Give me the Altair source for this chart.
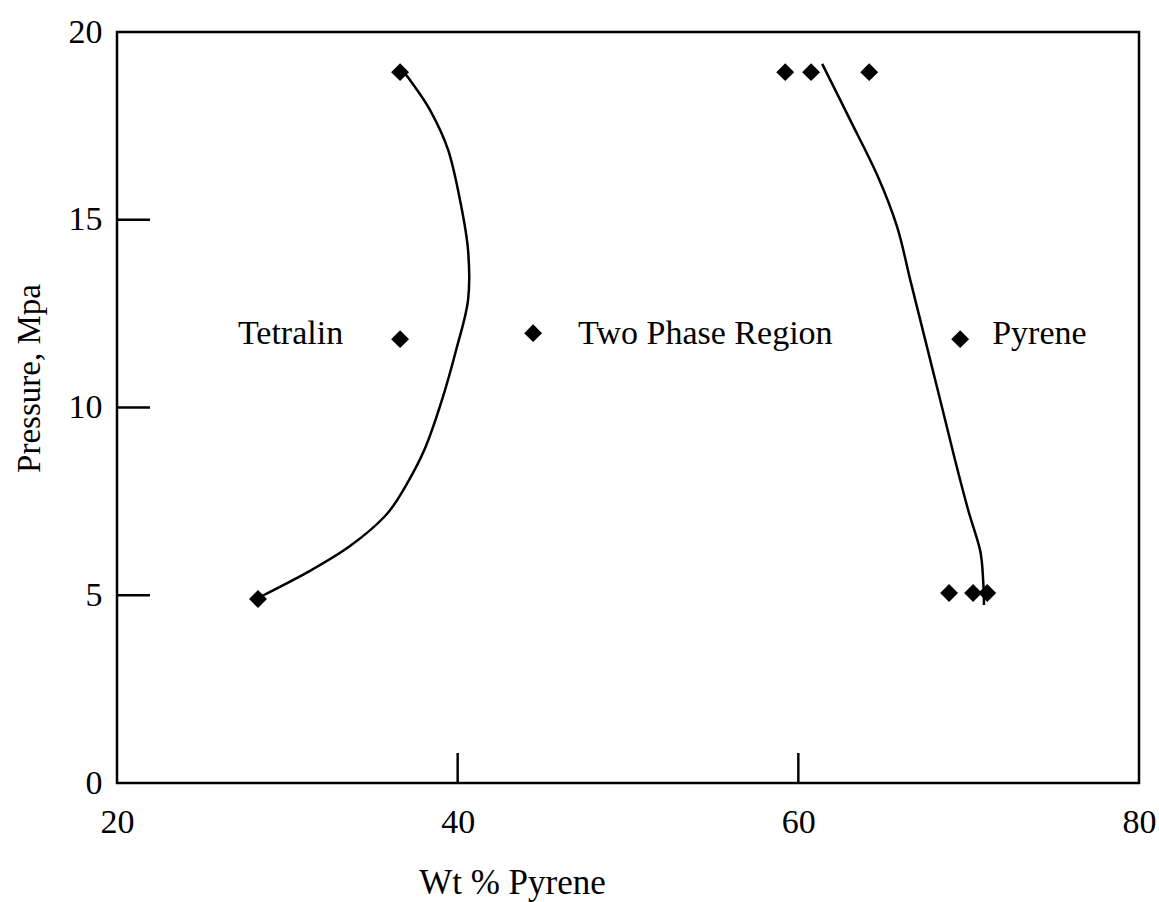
import altair as alt
import pandas as pd

# Measured points (diamonds)
pt_x = [28.28, 36.62, 36.62, 44.43, 59.23, 60.75, 64.16, 69.5, 68.85, 70.26, 71.09]
pt_y = [4.90, 18.93, 11.82, 11.98, 18.93, 18.93, 18.93, 11.82, 5.06, 5.06, 5.06]

# Hand-drawn phase boundary curves
tet_x = [28.51, 31.33, 33.68, 35.74, 36.91, 38.09, 39.08, 39.91, 40.61, 40.61, 40.14, 39.44, 38.38, 37.20, 36.79]
tet_y = [4.98, 5.65, 6.31, 7.11, 7.88, 8.92, 10.2, 11.53, 12.86, 14.19, 15.52, 16.86, 17.92, 18.72, 18.93]
pyr_x = [61.4, 63.04, 64.63, 65.8, 66.57, 67.45, 68.33, 69.2, 69.97, 70.67, 70.85, 70.9]
pyr_y = [19.15, 17.66, 16.19, 14.81, 13.4, 11.8, 10.2, 8.6, 7.27, 6.2, 5.4, 4.74]

# Region labels
lab_text = ["Tetralin", "Two Phase Region", "Pyrene"]
lab_x = [27.1, 47.07, 71.38]
lab_y = [11.69, 11.69, 11.69]

x_ticks = [40, 60]
y_ticks = [5, 10, 15]

FONT = "Liberation Serif"
W, H = 1022, 751

points = pd.DataFrame({"x": pt_x, "y": pt_y})
curves = pd.DataFrame({
    "x": tet_x + pyr_x,
    "y": tet_y + pyr_y,
    "curve": ["Tetralin"] * len(tet_x) + ["Pyrene"] * len(pyr_x),
    "order": list(range(len(tet_x))) + list(range(len(pyr_x))),
})
labels = pd.DataFrame({"x": lab_x, "y": lab_y, "text": lab_text})

xscale = alt.Scale(domain=[20, 80], nice=False, zero=False)
yscale = alt.Scale(domain=[0, 20], nice=False, zero=False)

xaxis = alt.Axis(
    values=[20, 40, 60, 80], title="Wt % Pyrene", ticks=False, tickSize=0, domain=False, grid=False,
    labelFlush=False,
    labelFont=FONT, labelFontSize=34, labelColor="black", labelPadding=22,
    titleFont=FONT, titleFontSize=35, titleFontWeight="normal", titleColor="black",
    titleX=395, titleY=110, titleBaseline="alphabetic", titleAnchor="start", titleAlign="center",
)
yaxis = alt.Axis(
    values=[0, 5, 10, 15, 20], title="Pressure, Mpa", ticks=False, tickSize=0, domain=False, grid=False,
    labelFlush=False,
    labelFont=FONT, labelFontSize=34, labelColor="black", labelPadding=15,
    titleFont=FONT, titleFontSize=33, titleFontWeight="normal", titleColor="black",
    titleX=-104, titleY=346, titleAlign="center", titleBaseline="top", titleAngle=270,
)

base_x = alt.X("x:Q", scale=xscale, axis=xaxis)
base_y = alt.Y("y:Q", scale=yscale, axis=yaxis)

line = alt.Chart(curves).mark_line(color="black", strokeWidth=2.5, interpolate="cardinal").encode(
    x=base_x, y=base_y, detail="curve:N", order="order:Q"
)
pts = alt.Chart(points).mark_point(shape="diamond", filled=True, color="black", size=320, opacity=1).encode(
    x=alt.X("x:Q", scale=xscale), y=alt.Y("y:Q", scale=yscale)
)
txt = alt.Chart(labels).mark_text(font=FONT, fontSize=34, align="left", baseline="alphabetic", color="black").encode(
    x=alt.X("x:Q", scale=xscale), y=alt.Y("y:Q", scale=yscale), text="text:N"
)
xt = alt.Chart(pd.DataFrame({"x": x_ticks})).mark_rule(color="black", strokeWidth=2.5).encode(
    x=alt.X("x:Q", scale=xscale), y=alt.value(H), y2=alt.value(H - 30)
)
yt = alt.Chart(pd.DataFrame({"y": y_ticks})).mark_rule(color="black", strokeWidth=2.5).encode(
    y=alt.Y("y:Q", scale=yscale), x=alt.value(0), x2=alt.value(33)
)

chart = alt.layer(line, xt, yt, pts, txt).properties(
    width=W, height=H,
    autosize=alt.AutoSizeParams(type="none"),
    padding={"left": 117, "top": 32, "right": 20, "bottom": 119},
    background="white",
).configure_view(stroke="black", strokeWidth=2.5)

chart.save("out.html", embed_options={"renderer": "svg", "actions": False})
